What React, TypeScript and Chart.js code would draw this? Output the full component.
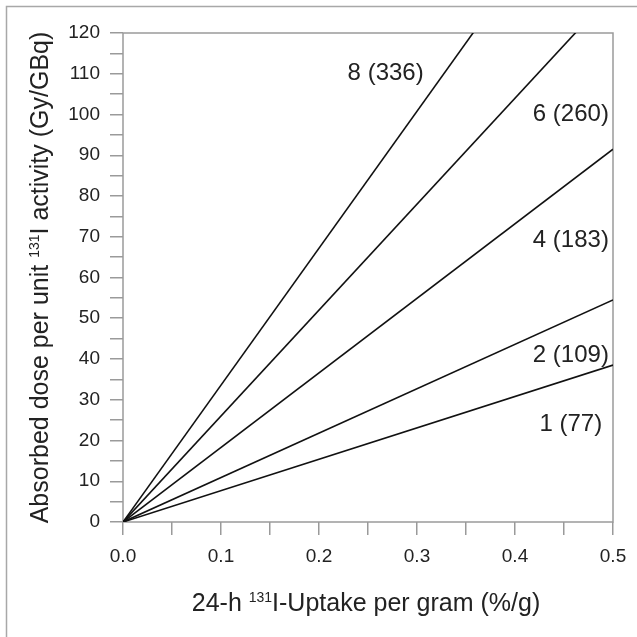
import React, { useEffect, useRef } from "react";
import { Chart, registerables } from "chart.js";

Chart.register(...registerables);

// ---- data ----
const uptakeX = [0, 0.5];
const series1 = [0, 38.5];
const series2 = [0, 54.5];
const series4 = [0, 91.5];
const series6 = [0, 130];
const series8 = [0, 168];
const seriesLabels = ["1 (77)", "2 (109)", "4 (183)", "6 (260)", "8 (336)"];
const labelX = [0.457, 0.457, 0.457, 0.457, 0.268];
const labelY = [24, 41, 69, 100, 110];
const xTickLabels = ["0.0", "0.1", "0.2", "0.3", "0.4", "0.5"];
const yTickLabels = ["0", "10", "20", "30", "40", "50", "60", "70", "80", "90", "100", "110", "120"];

const FONT = '"Liberation Sans", Arial, Helvetica, sans-serif';
const GRAY = "#9a9a9a";
const TEXT = "#222";

function drawRich(ctx: CanvasRenderingContext2D, before: string, sup: string, after: string, cx: number, baseY: number) {
  const main = `25px ${FONT}`;
  const small = `14px ${FONT}`;
  ctx.font = main;
  const w1 = ctx.measureText(before).width;
  const w3 = ctx.measureText(after).width;
  ctx.font = small;
  const w2 = ctx.measureText(sup).width;
  let x = cx - (w1 + w2 + w3) / 2;
  ctx.textAlign = "left";
  ctx.textBaseline = "alphabetic";
  ctx.fillStyle = TEXT;
  ctx.font = main;
  ctx.fillText(before, x, baseY);
  x += w1;
  ctx.font = small;
  ctx.fillText(sup, x, baseY - 9);
  x += w2;
  ctx.font = main;
  ctx.fillText(after, x, baseY);
}

const decorPlugin = {
  id: "decor",
  beforeDraw(chart: any) {
    const ctx = chart.ctx as CanvasRenderingContext2D;
    ctx.save();
    ctx.fillStyle = "#fff";
    ctx.fillRect(0, 0, chart.width, chart.height);
    ctx.strokeStyle = "#a8a8a8";
    ctx.lineWidth = 1.5;
    ctx.beginPath();
    ctx.moveTo(6.5, chart.height);
    ctx.lineTo(6.5, 6.5);
    ctx.lineTo(chart.width, 6.5);
    ctx.stroke();
    ctx.restore();
  },
  beforeDatasetsDraw(chart: any) {
    const ctx = chart.ctx as CanvasRenderingContext2D;
    const a = chart.chartArea;
    ctx.save();
    ctx.strokeStyle = GRAY;
    ctx.lineWidth = 1.5;
    ctx.strokeRect(a.left, a.top, a.right - a.left, a.bottom - a.top);
    ctx.restore();
  },
  afterDraw(chart: any) {
    const ctx = chart.ctx as CanvasRenderingContext2D;
    const xs = chart.scales.x;
    const ys = chart.scales.y;
    const a = chart.chartArea;
    ctx.save();
    // series annotations
    ctx.font = `24px ${FONT}`;
    ctx.fillStyle = TEXT;
    ctx.textAlign = "center";
    ctx.textBaseline = "middle";
    seriesLabels.forEach((t, i) => {
      ctx.fillText(t, xs.getPixelForValue(labelX[i]), ys.getPixelForValue(labelY[i]));
    });
    // x title
    drawRich(ctx, "24-h ", "131", "I-Uptake per gram (%/g)", (a.left + a.right) / 2 - 2, 611);
    // y title
    ctx.translate(48, (a.top + a.bottom) / 2);
    ctx.rotate(-Math.PI / 2);
    drawRich(ctx, "Absorbed dose per unit ", "131", "I activity (Gy/GBq)", 0, 0);
    ctx.restore();
  },
};

export default function App() {
  const ref = useRef<HTMLCanvasElement | null>(null);
  useEffect(() => {
    document.body.style.margin = "0";
    document.body.style.overflow = "hidden";
    const canvas = ref.current;
    if (!canvas) return;
    const mk = (vals: number[], label: string) => ({
      label,
      data: uptakeX.map((x, i) => ({ x, y: vals[i] })),
      borderColor: "#111",
      borderWidth: 1.6,
      pointRadius: 0,
      fill: false,
      tension: 0,
      clip: 0,
    });
    const chart = new Chart(canvas, {
      type: "line",
      data: {
        datasets: [
          mk(series1, seriesLabels[0]),
          mk(series2, seriesLabels[1]),
          mk(series4, seriesLabels[2]),
          mk(series6, seriesLabels[3]),
          mk(series8, seriesLabels[4]),
        ],
      },
      options: {
        responsive: false,
        animation: false,
        devicePixelRatio: 1,
        layout: { padding: { left: 0, top: 33, right: 24, bottom: 0 } },
        plugins: { legend: { display: false }, tooltip: { enabled: false } },
        scales: {
          x: {
            type: "linear",
            min: 0,
            max: 0.5,
            afterFit: (s: any) => {
              s.height = 115;
            },
            border: { display: false },
            grid: {
              drawOnChartArea: false,
              drawTicks: true,
              tickLength: 13,
              color: GRAY,
              tickColor: GRAY,
              lineWidth: 1.5,
            },
            ticks: {
              stepSize: 0.05,
              autoSkip: false,
              maxRotation: 0,
              padding: 10,
              color: TEXT,
              font: { family: FONT, size: 19 },
              callback: (v: any) => {
                const i = Math.round(Number(v) * 20);
                return i % 2 === 0 ? xTickLabels[i / 2] : "";
              },
            },
          },
          y: {
            type: "linear",
            min: 0,
            max: 120,
            afterFit: (s: any) => {
              s.width = 123;
            },
            border: { display: false },
            grid: {
              drawOnChartArea: false,
              drawTicks: true,
              tickLength: 13,
              color: GRAY,
              tickColor: GRAY,
              lineWidth: 1.5,
            },
            ticks: {
              stepSize: 5,
              autoSkip: false,
              padding: 10,
              color: TEXT,
              font: { family: FONT, size: 19 },
              callback: (v: any) => {
                const i = Math.round(Number(v) / 5);
                return i % 2 === 0 ? yTickLabels[i / 2] : "";
              },
            },
          },
        },
      },
      plugins: [decorPlugin],
    } as any);
    return () => chart.destroy();
  }, []);
  return (
    <div style={{ width: 637, height: 637, background: "#fff" }}>
      <canvas ref={ref} width={637} height={637} style={{ display: "block", width: 637, height: 637 }} />
    </div>
  );
}
